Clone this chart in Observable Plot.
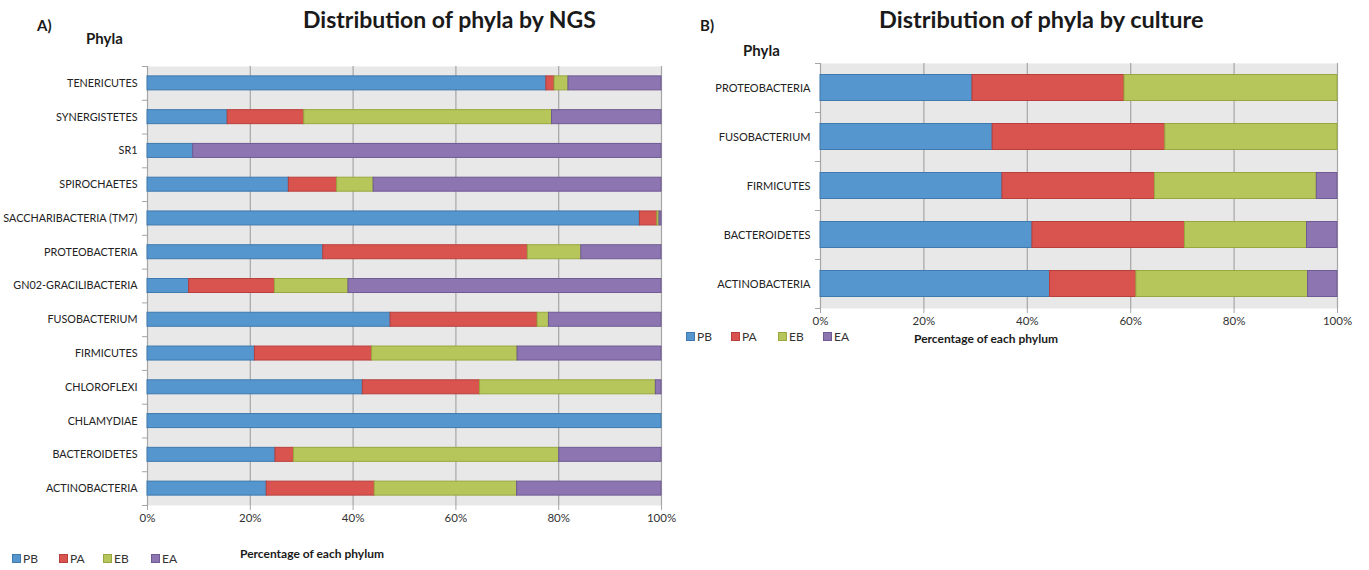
<!DOCTYPE html>
<html><head><meta charset="utf-8">
<script src="https://cdn.jsdelivr.net/npm/d3@7"></script>
<script src="https://cdn.jsdelivr.net/npm/@observablehq/plot@0.6"></script>
<style>
body{margin:0;background:#fff;font-family:Lato,"Open Sans",sans-serif;}
#wrap{position:relative;width:1369px;height:570px;overflow:hidden;background:#fff}
.abs{position:absolute;white-space:nowrap;color:#1a1a1a;line-height:1}
.b{font-weight:700}
.sw{display:inline-block;width:7px;height:7px;margin-right:2px;vertical-align:0px;border:1px solid}
svg{position:absolute;overflow:visible}
</style></head><body><div id="wrap"></div>
<script>
// ---- data ----
const series = ["PB", "PA", "EB", "EA"];
const fillColors = ["#5596CE", "#D9534F", "#B7C65A", "#8C75B0"];
const strokeColors = ["#3F79AD", "#B8403C", "#98A83E", "#6F5A93"];

// A) NGS (top to bottom)
const ngsPhyla = ["TENERICUTES", "SYNERGISTETES", "SR1", "SPIROCHAETES", "SACCHARIBACTERIA (TM7)", "PROTEOBACTERIA", "GN02-GRACILIBACTERIA", "FUSOBACTERIUM", "FIRMICUTES", "CHLOROFLEXI", "CHLAMYDIAE", "BACTEROIDETES", "ACTINOBACTERIA"];
const ngsPB = [77.6, 15.6, 8.9, 27.5, 95.8, 34.2, 8.1, 47.3, 20.9, 41.9, 100, 24.9, 23.2];
const ngsPA = [1.6, 14.9, 0, 9.4, 3.4, 39.8, 16.7, 28.6, 22.8, 22.8, 0, 3.6, 21.0];
const ngsEB = [2.7, 48.2, 0, 7.1, 0.4, 10.4, 14.3, 2.2, 28.3, 34.2, 0, 51.6, 27.7];
const ngsEA = [18.1, 21.3, 91.1, 56.0, 0.4, 15.6, 60.9, 21.9, 28.0, 1.1, 0, 19.9, 28.1];

// B) culture (top to bottom)
const culPhyla = ["PROTEOBACTERIA", "FUSOBACTERIUM", "FIRMICUTES", "BACTEROIDETES", "ACTINOBACTERIA"];
const culPB = [29.4, 33.3, 35.2, 41.0, 44.4];
const culPA = [29.4, 33.4, 29.5, 29.5, 16.7];
const culEB = [41.2, 33.3, 31.3, 23.6, 33.2];
const culEA = [0, 0, 4.0, 5.9, 5.7];

const xTicks = [0, 20, 40, 60, 80, 100];

// ---- helpers ----
function buildRows(phyla, vals) {
  const rows = [];
  phyla.forEach((p, i) => {
    let acc = 0;
    series.forEach((s, j) => {
      const v = vals[j][i];
      rows.push({phylum: p, series: s, x1: acc, x2: acc + v, value: v});
      acc += v;
    });
  });
  return rows;
}

function chart(o) {
  const rows = buildRows(o.phyla, o.vals);
  const bw = (o.height - o.marginTop - o.marginBottom) / o.phyla.length;
  const inset = (bw - o.barH) / 2;
  const last = o.phyla[o.phyla.length - 1];
  const marks = [
    Plot.frame({fill: "#E8E8E8", stroke: null}),
    Plot.ruleX(xTicks, {stroke: "#A6A6A6", strokeWidth: 1.2}),
    Plot.axisX({ticks: xTicks, tickFormat: d => d + "%", tickSize: 5, tickPadding: 3, stroke: "#A6A6A6", fill: "#333", label: null, fontSize: o.tickFont}),
    Plot.axisY({tickSize: 0, tickPadding: o.labelPad, fill: "#222", label: null, fontSize: o.labelFont}),
    Plot.ruleY(o.phyla, {y: d => d, dy: -bw / 2, x1: 0, x2: 0, insetLeft: -5, stroke: "#A6A6A6"}),
    Plot.ruleY([last], {y: d => d, dy: bw / 2, x1: 0, x2: 0, insetLeft: -5, stroke: "#A6A6A6"})
  ];
  series.forEach((s, j) => {
    marks.push(Plot.barX(rows.filter(r => r.series === s && r.value > 0), {
      x1: "x1", x2: "x2", y: "phylum",
      fill: fillColors[j], stroke: strokeColors[j], strokeWidth: 1,
      insetTop: inset, insetBottom: inset
    }));
  });
  const svg = Plot.plot({
    width: o.width, height: o.height,
    marginLeft: o.marginLeft, marginRight: o.marginRight, marginTop: o.marginTop, marginBottom: o.marginBottom,
    style: {fontFamily: "Lato, 'Open Sans', sans-serif", fontSize: "12px", background: "transparent", overflow: "visible"},
    x: {domain: [0, 100], label: null},
    y: {domain: o.phyla, padding: 0, round: false, label: null, axis: null},
    marks
  });
  svg.style.left = o.left + "px";
  svg.style.top = o.top + "px";
  return svg;
}

const wrap = document.getElementById("wrap");

wrap.appendChild(chart({
  phyla: ngsPhyla, vals: [ngsPB, ngsPA, ngsEB, ngsEA],
  left: 0, top: 0, width: 680, height: 530,
  marginLeft: 147, marginRight: 19, marginTop: 66, marginBottom: 25,
  barH: 14, labelPad: 10, labelFont: 10.8, tickFont: 11.5
}));

wrap.appendChild(chart({
  phyla: culPhyla, vals: [culPB, culPA, culEB, culEA],
  left: 680, top: 0, width: 689, height: 330,
  marginLeft: 140, marginRight: 32, marginTop: 63, marginBottom: 22,
  barH: 26, labelPad: 10, labelFont: 11, tickFont: 11.5
}));

// ---- texts ----
function addText(txt, left, top, size, bold, extra) {
  const d = document.createElement("div");
  d.className = "abs" + (bold ? " b" : "");
  d.textContent = txt;
  d.style.left = left + "px";
  d.style.top = top + "px";
  d.style.fontSize = size + "px";
  if (extra) Object.assign(d.style, extra);
  wrap.appendChild(d);
  return d;
}
addText("A)", 37, 18, 15, true);
addText("Phyla", 86, 31, 15, true);
addText("Distribution of phyla by NGS", 303, 8, 23, true);
addText("B)", 700, 18, 15, true);
addText("Phyla", 743, 43, 15, true);
addText("Distribution of phyla by culture", 879, 8, 23.5, true);
addText("Percentage of each phylum", 240, 548, 12, true);
addText("Percentage of each phylum", 914, 333, 12, true);

function addLegend(left, top, gaps) {
  series.forEach((s, j) => {
    const d = document.createElement("div");
    d.className = "abs leg";
    d.style.left = (left + gaps[j]) + "px";
    d.style.top = top + "px";
    d.style.fontSize = "12px";
    d.style.color = "#333";
    d.innerHTML = `<span class="sw" style="background:${fillColors[j]};border-color:${strokeColors[j]}"></span>${s}`;
    wrap.appendChild(d);
  });
}
addLegend(12, 553, [0, 47, 91, 139]);
addLegend(686, 331, [0, 45, 92, 137]);
</script>
</body></html>
